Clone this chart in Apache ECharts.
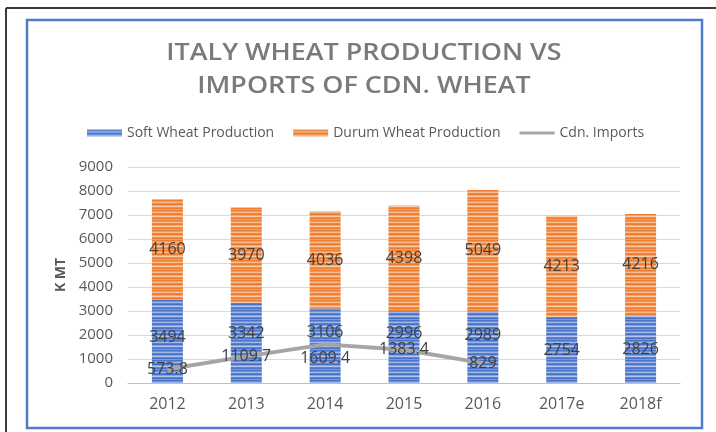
<!DOCTYPE html>
<html><head><meta charset="utf-8">
<script src="https://cdn.jsdelivr.net/npm/echarts@6/dist/echarts.min.js"></script>
<style>html,body{margin:0;padding:0;background:#fff}#c{width:716px;height:432px}</style>
</head><body><div id="c"></div>
<script>
const categories = ['2012','2013','2014','2015','2016','2017e','2018f'];
const softWheat = [3494, 3342, 3106, 2996, 2989, 2754, 2826];
const durumWheat = [4160, 3970, 4036, 4398, 5049, 4213, 4216];
const cdnImports = [573.8, 1109.7, 1609.4, 1383.4, 829, null, null];
const yTicks = {min: 0, max: 9000, interval: 1000};
const titleText = 'ITALY WHEAT PRODUCTION VS\nIMPORTS OF CDN. WHEAT';

function stripes(rows) {
  const c = document.createElement('canvas');
  c.width = 4; c.height = rows.length;
  const g = c.getContext('2d');
  rows.forEach((col, i) => { g.fillStyle = col; g.fillRect(0, i, 4, 1); });
  return {image: c, repeat: 'repeat'};
}
const blueFill = stripes(['#4a74c9','#6f91d8','#9fb6e7','#5a80d0','#4470c6','#86a2e0','#b4c6ee','#5c82d1','#4a74c9','#7a99dc']);
const orangeFill = stripes(['#ed7d31','#f29a5c','#f7bb90','#ef8842','#ec7a2e','#f4a76f','#f9cba8','#f08d4a','#ed7d31','#f3a067']);

// label placement (style only) to mirror the reference
const softLabelOffsets = [[0,-4],[0,-9],[0,-13],[0,-14],[0,-12],[0,0],[0,0]];
const importLabelPos = ['inside','inside','bottom','inside','inside','inside','inside'];

const font = "'Open Sans', sans-serif";
const lineIcon = 'path://M0,0h0.05v0.05h-0.05z M0,2h38v3h-38z M37.95,6.95h0.05v0.05h-0.05z';
const chart = echarts.init(document.getElementById('c'), null, {renderer: 'canvas'});
chart.setOption({
  animation: false,
  backgroundColor: '#fff',
  textStyle: {fontFamily: font},
  graphic: [
    {type: 'line', shape: {x1: 6, y1: 8, x2: 716, y2: 8}, style: {stroke: '#3a3a3a', lineWidth: 2}},
    {type: 'line', shape: {x1: 6, y1: 8, x2: 6, y2: 432}, style: {stroke: '#3a3a3a', lineWidth: 2}},
    {type: 'rect', shape: {x: 27, y: 20, width: 675, height: 408}, style: {fill: 'none', stroke: '#4f7cc9', lineWidth: 2.5}},
    {type: 'text', x: 364, y: 70, scaleX: 1.17,
     style: {text: titleText, align: 'center', verticalAlign: 'middle', fill: '#7a7a7a',
             font: "600 23px 'Open Sans', sans-serif", lineHeight: 33}}
  ],
  legend: {
    left: 82, top: 121,
    itemWidth: 35, itemHeight: 7, itemGap: 19,
    textStyle: {fontFamily: font, fontSize: 14, color: '#595959'},
    data: [
      {name: 'Soft Wheat Production', icon: 'rect'},
      {name: 'Durum Wheat Production', icon: 'rect'},
      {name: 'Cdn. Imports', icon: lineIcon, itemStyle: {color: '#a5a5a5'}}
    ]
  },
  grid: {left: 128, right: 36, top: 167, bottom: 49},
  xAxis: {
    type: 'category', data: categories,
    axisTick: {show: false},
    axisLine: {lineStyle: {color: '#bfbfbf', width: 1}},
    axisLabel: {color: '#595959', fontSize: 16, margin: 13, fontFamily: font}
  },
  yAxis: {
    type: 'value', min: yTicks.min, max: yTicks.max, interval: yTicks.interval,
    name: 'K MT', nameLocation: 'middle', nameGap: 58, nameRotate: 90,
    nameTextStyle: {color: '#595959', fontSize: 14, fontWeight: 'bold', fontFamily: font},
    axisLine: {show: false}, axisTick: {show: false},
    splitLine: {lineStyle: {color: '#d9d9d9', width: 1}},
    axisLabel: {color: '#595959', fontSize: 15, margin: 15, fontFamily: font, formatter: v => String(v)}
  },
  series: [
    {
      name: 'Soft Wheat Production', type: 'bar', stack: 'prod', barWidth: 31,
      data: softWheat.map((v, i) => ({value: v, label: {offset: softLabelOffsets[i]}})),
      itemStyle: {color: blueFill},
      label: {show: true, position: 'inside', color: '#404040', fontSize: 16, fontFamily: font}
    },
    {
      name: 'Durum Wheat Production', type: 'bar', stack: 'prod', barWidth: 31,
      data: durumWheat,
      itemStyle: {color: orangeFill},
      label: {show: true, position: 'inside', color: '#404040', fontSize: 16, fontFamily: font}
    },
    {
      name: 'Cdn. Imports', type: 'line',
      data: cdnImports.map((v, i) => ({value: v, label: {position: importLabelPos[i], distance: 6}})),
      symbol: 'circle', symbolSize: 0.1, showSymbol: true, connectNulls: false, z: 5,
      lineStyle: {color: '#a5a5a5', width: 4},
      itemStyle: {color: '#a5a5a5'},
      label: {show: true, position: 'inside', color: '#404040', fontSize: 16, fontFamily: font},
      labelLayout: {hideOverlap: false}
    }
  ]
});
</script></body></html>
